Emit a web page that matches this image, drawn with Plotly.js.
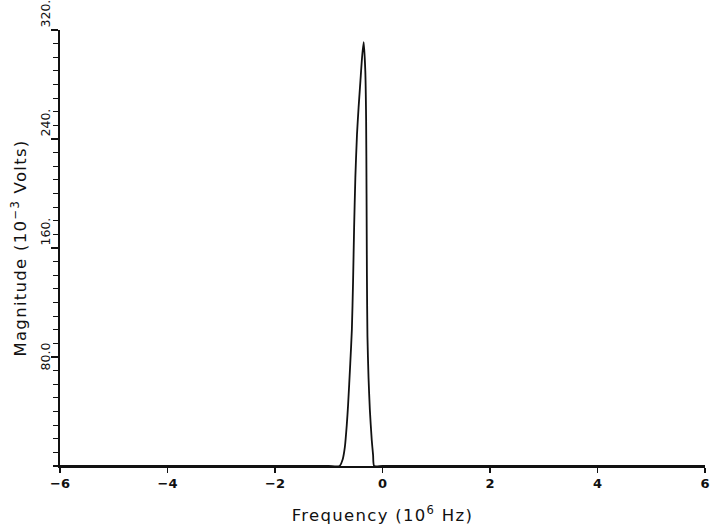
<!DOCTYPE html>
<html>
<head>
<meta charset="utf-8">
<script src="https://cdn.plot.ly/plotly-3.0.1.min.js"></script>
<style>
html,body{margin:0;padding:0;background:#fff;}
#chart{width:710px;height:531px;}
.xtitle,.ytitle{letter-spacing:1.3px;}
</style>
</head>
<body>
<div id="chart"></div>
<script>
// Frequency (10^6 Hz)
const freq = [-6, -4, -2, -1, -0.80, -0.74, -0.70, -0.665, -0.64, -0.60, -0.57, -0.548, -0.528, -0.505, -0.475, -0.445, -0.41, -0.38, -0.35,
              -0.32, -0.305, -0.297, -0.29, -0.28, -0.26, -0.235, -0.20, -0.175, -0.155, 0, 2, 4, 6];
// Magnitude (10^-3 Volts)
const magnitude = [0, 0, 0, 0, 0, 5, 14, 30, 45, 75, 100, 135, 175, 212, 243, 263, 283, 300, 311,
                   290, 255, 200, 140, 95, 65, 41, 19, 8, 0, 0, 0, 0, 0];

const xTickVals = [-6, -4, -2, 0, 2, 4, 6];
const xTickText = ["\u22126", "\u22124", "\u22122", "0", "2", "4", "6"];
const yTickVals = [80, 160, 240, 320];
const yTickText = ["80.0", "160.", "240.", "320."];

const trace = {
  x: freq, y: magnitude, type: 'scatter', mode: 'lines',
  line: {color: '#111', width: 1.8, shape: 'spline', smoothing: 0.6},
  hoverinfo: 'skip'
};

const yLabelAnnots = yTickVals.map((v, i) => ({
  xref: 'paper', yref: 'y', x: 0, y: v,
  xshift: -6, xanchor: 'right',
  yanchor: i === 0 ? 'middle' : 'bottom',
  text: yTickText[i], textangle: -90, showarrow: false,
  font: {size: 12.5, family: 'DejaVu Sans, sans-serif', color: '#111'}
}));

const layout = {
  width: 710, height: 531,
  margin: {l: 60, r: 5, t: 30, b: 65},
  paper_bgcolor: '#fff', plot_bgcolor: '#fff',
  showlegend: false,
  font: {family: 'DejaVu Sans, sans-serif', color: '#111'},
  xaxis: {
    range: [-6, 6], showgrid: false, zeroline: false,
    showline: true, linecolor: '#111', linewidth: 1.6,
    ticks: 'outside', ticklen: 5, tickwidth: 1.6, tickcolor: '#111',
    tickvals: xTickVals, ticktext: xTickText,
    tickfont: {size: 13, family: 'DejaVu Sans, sans-serif', weight: 'bold', color: '#111'},
    title: {text: 'Frequency (10<sup>6</sup> Hz)', font: {size: 16.5, color: '#111'}, standoff: 19}
  },
  yaxis: {
    range: [0, 320], showgrid: false, zeroline: false,
    showline: true, linecolor: '#111', linewidth: 1.6,
    ticks: 'outside', ticklen: 7, tickwidth: 1.4, tickcolor: '#111',
    tickvals: yTickVals, showticklabels: false,
    minor: {dtick: 10, tick0: 0, ticks: 'outside', ticklen: 5, tickwidth: 1.2, tickcolor: '#111', showgrid: false},
    title: {text: 'Magnitude (10<sup>\u22123</sup> Volts)', font: {size: 16.5, color: '#111'}, standoff: 20}
  },
  annotations: yLabelAnnots
};

Plotly.newPlot('chart', [trace], layout, {displayModeBar: false, staticPlot: true});
</script>
</body>
</html>
